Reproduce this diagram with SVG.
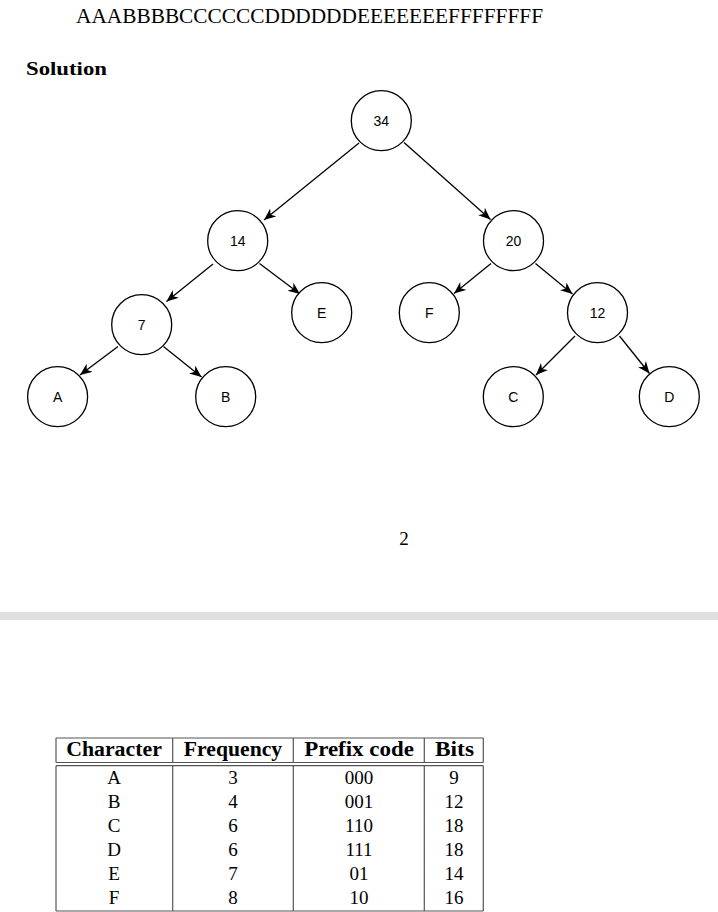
<svg xmlns="http://www.w3.org/2000/svg" width="718" height="912" viewBox="0 0 718 912">
<style>
  .serif { font-family: "Liberation Serif", "DejaVu Serif", serif; fill: #000; }
  .node circle { fill: #fff; stroke: #000; stroke-width: 1.3; }
  .node text { font-family: "Liberation Sans", Arial, sans-serif; font-size: 14px; text-anchor: middle; fill: #000; }
  .edge { stroke: #000; stroke-width: 1.3; fill: none; marker-end: url(#arrow); }
  .tl { stroke: #555; stroke-width: 1.2; }
  .hd { font-weight: bold; font-size: 20px; text-anchor: middle; }
  .td { font-size: 19px; text-anchor: middle; }
</style>
<defs>
  <marker id="arrow" markerUnits="userSpaceOnUse" markerWidth="13" markerHeight="11" refX="12" refY="5" orient="auto">
    <path d="M0,0 L12,5 L0,10 L3.5,5 Z" fill="#000"/>
  </marker>
</defs>
<rect x="0" y="0" width="718" height="912" fill="#fff"/>

<text class="serif" x="76" y="22.5" font-size="20.5" textLength="467" lengthAdjust="spacingAndGlyphs">AAABBBBCCCCCCDDDDDDEEEEEEEFFFFFFFF</text>
<text class="serif" x="26" y="75" font-size="19" font-weight="bold" textLength="81" lengthAdjust="spacingAndGlyphs">Solution</text>

<g id="connectors">
  <line class="edge" x1="359" y1="143" x2="264" y2="220"/>
  <line class="edge" x1="404" y1="142.5" x2="490.5" y2="219.5"/>
  <line class="edge" x1="213" y1="264" x2="166.5" y2="301.5"/>
  <line class="edge" x1="259.5" y1="263.5" x2="300" y2="294"/>
  <line class="edge" x1="118" y1="346.5" x2="80" y2="375"/>
  <line class="edge" x1="163.5" y1="346.5" x2="201.5" y2="377"/>
  <line class="edge" x1="491" y1="263.5" x2="454" y2="293.5"/>
  <line class="edge" x1="535.5" y1="263.5" x2="572.5" y2="294"/>
  <line class="edge" x1="575" y1="336" x2="536" y2="375"/>
  <line class="edge" x1="619.5" y1="336" x2="649.5" y2="373.5"/>
</g>

<g id="n34" class="node"><circle cx="381.3" cy="120.7" r="30"/><text x="381.3" y="126">34</text></g>
<g id="n14" class="node"><circle cx="237.7" cy="240.7" r="30"/><text x="237.7" y="246">14</text></g>
<g id="n20" class="node"><circle cx="513.5" cy="240.7" r="30"/><text x="513.5" y="246">20</text></g>
<g id="n7" class="node"><circle cx="141.7" cy="324.7" r="30"/><text x="141.7" y="330">7</text></g>
<g id="nE" class="node"><circle cx="321.7" cy="312.7" r="30"/><text x="321.7" y="318">E</text></g>
<g id="nF" class="node"><circle cx="429.3" cy="312.7" r="30"/><text x="429.3" y="318">F</text></g>
<g id="n12" class="node"><circle cx="597.5" cy="312.7" r="30"/><text x="597.5" y="318">12</text></g>
<g id="nA" class="node"><circle cx="57.6" cy="396.7" r="30"/><text x="57.6" y="402">A</text></g>
<g id="nB" class="node"><circle cx="225.7" cy="396.7" r="30"/><text x="225.7" y="402">B</text></g>
<g id="nC" class="node"><circle cx="513.3" cy="396.7" r="30"/><text x="513.3" y="402">C</text></g>
<g id="nD" class="node"><circle cx="669.3" cy="396.7" r="30"/><text x="669.3" y="402">D</text></g>

<text class="serif" x="404" y="545" font-size="19" text-anchor="middle">2</text>

<rect x="0" y="612" width="718" height="8" fill="#e0e0e0"/>

<g id="table">
  <line class="tl" x1="56" y1="738" x2="483.3" y2="738"/>
  <line class="tl" x1="56" y1="762.5" x2="483.3" y2="762.5"/>
  <line class="tl" x1="56" y1="765.7" x2="483.3" y2="765.7"/>
  <line class="tl" x1="56" y1="911" x2="483.3" y2="911"/>
  <g>
    <line class="tl" x1="56" y1="738" x2="56" y2="762.5"/>
    <line class="tl" x1="172.7" y1="738" x2="172.7" y2="762.5"/>
    <line class="tl" x1="293.3" y1="738" x2="293.3" y2="762.5"/>
    <line class="tl" x1="424.3" y1="738" x2="424.3" y2="762.5"/>
    <line class="tl" x1="483.3" y1="738" x2="483.3" y2="762.5"/>
    <line class="tl" x1="56" y1="765.7" x2="56" y2="911"/>
    <line class="tl" x1="172.7" y1="765.7" x2="172.7" y2="911"/>
    <line class="tl" x1="293.3" y1="765.7" x2="293.3" y2="911"/>
    <line class="tl" x1="424.3" y1="765.7" x2="424.3" y2="911"/>
    <line class="tl" x1="483.3" y1="765.7" x2="483.3" y2="911"/>
  </g>
  <text class="serif hd" x="114" y="755.5" textLength="95.7" lengthAdjust="spacingAndGlyphs">Character</text>
  <text class="serif hd" x="233" y="755.5" textLength="98.3" lengthAdjust="spacingAndGlyphs">Frequency</text>
  <text class="serif hd" x="359" y="755.5" textLength="109.7" lengthAdjust="spacingAndGlyphs">Prefix code</text>
  <text class="serif hd" x="454.5" y="755.5" textLength="39" lengthAdjust="spacingAndGlyphs">Bits</text>

  <text class="serif td" x="114" y="783.5">A</text>
  <text class="serif td" x="233" y="783.5">3</text>
  <text class="serif td" x="359" y="783.5">000</text>
  <text class="serif td" x="454" y="783.5">9</text>

  <text class="serif td" x="114" y="807.5">B</text>
  <text class="serif td" x="233" y="807.5">4</text>
  <text class="serif td" x="359" y="807.5">001</text>
  <text class="serif td" x="454" y="807.5">12</text>

  <text class="serif td" x="114" y="831.5">C</text>
  <text class="serif td" x="233" y="831.5">6</text>
  <text class="serif td" x="359" y="831.5">110</text>
  <text class="serif td" x="454" y="831.5">18</text>

  <text class="serif td" x="114" y="855.5">D</text>
  <text class="serif td" x="233" y="855.5">6</text>
  <text class="serif td" x="359" y="855.5">111</text>
  <text class="serif td" x="454" y="855.5">18</text>

  <text class="serif td" x="114" y="879.5">E</text>
  <text class="serif td" x="233" y="879.5">7</text>
  <text class="serif td" x="359" y="879.5">01</text>
  <text class="serif td" x="454" y="879.5">14</text>

  <text class="serif td" x="114" y="903.5">F</text>
  <text class="serif td" x="233" y="903.5">8</text>
  <text class="serif td" x="359" y="903.5">10</text>
  <text class="serif td" x="454" y="903.5">16</text>
</g>
</svg>
